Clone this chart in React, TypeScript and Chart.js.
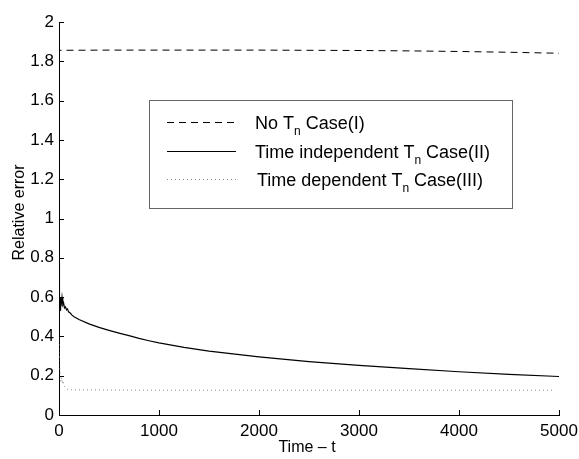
import React, { useEffect, useRef } from "react";
import { Chart, registerables } from "chart.js";

Chart.register(...registerables);

const FONT = "'Liberation Sans', Arial, Helvetica, sans-serif";

// Case (I): No T_n
const timeCase1 = [0, 2, 500, 1000, 2000, 3000, 3500, 4000, 4500, 5000];
const errCase1 = [0, 1.856, 1.857, 1.857, 1.857, 1.855, 1.853, 1.85, 1.846, 1.841];

// Case (II): Time independent T_n
const timeCase2 = [0, 3, 6, 10, 14, 18, 24, 30, 38, 46, 55, 65, 75, 85, 95, 110, 130, 150, 200, 300, 400, 500, 600, 700, 800, 900, 1000, 1250, 1500, 2000, 2500, 3000, 3500, 4000, 4500, 5000];
const errCase2 = [0.52, 0.78, 0.56, 0.6, 0.53, 0.59, 0.57, 0.6, 0.56, 0.57, 0.545, 0.55, 0.535, 0.54, 0.525, 0.52, 0.508, 0.5, 0.486, 0.464, 0.446, 0.431, 0.417, 0.404, 0.39, 0.378, 0.367, 0.344, 0.325, 0.296, 0.272, 0.253, 0.236, 0.22, 0.207, 0.196];

// Case (III): Time dependent T_n
const timeCase3 = [0, 4, 8, 12, 18, 25, 32, 40, 50, 65, 80, 100, 500, 1000, 2000, 3000, 4000, 4960];
const errCase3 = [0.4, 0.32, 0.24, 0.2, 0.17, 0.19, 0.16, 0.175, 0.15, 0.14, 0.132, 0.128, 0.127, 0.126, 0.126, 0.126, 0.126, 0.126];

const yTickLabels = ["0", "0.2", "0.4", "0.6", "0.8", "1", "1.2", "1.4", "1.6", "1.8", "2"];
const xTickLabels = ["0", "1000", "2000", "3000", "4000", "5000"];

const legendPrefix = ["No T", "Time independent T", "Time dependent T"];
const legendSub = ["n", "n", "n"];
const legendSuffix = [" Case(I)", " Case(II)", " Case(III)"];

const xTitle = "Time \u2013 t";
const yTitle = "Relative error";

const toPoints = (xs: number[], ys: number[]) => xs.map((x, i) => ({ x, y: ys[i] }));

const decorPlugin = {
  id: "decor",
  afterDraw(chart: any) {
    const ctx = chart.ctx as CanvasRenderingContext2D;
    const area = chart.chartArea;
    const xs = chart.scales.x;
    const ys = chart.scales.y;
    ctx.save();
    // inward tick marks
    ctx.strokeStyle = "#000";
    ctx.lineWidth = 1;
    ctx.beginPath();
    xs.ticks.forEach((t: any) => {
      const px = Math.round(xs.getPixelForValue(t.value)) + 0.5;
      ctx.moveTo(px, area.bottom);
      ctx.lineTo(px, area.bottom - 5);
    });
    ys.ticks.forEach((t: any) => {
      const py = Math.round(ys.getPixelForValue(t.value)) + 0.5;
      ctx.moveTo(area.left, py);
      ctx.lineTo(area.left + 5, py);
    });
    ctx.stroke();

    // axis titles
    ctx.fillStyle = "#000";
    ctx.font = `16px ${FONT}`;
    ctx.textAlign = "center";
    ctx.textBaseline = "middle";
    ctx.fillText(xTitle, (area.left + area.right) / 2 - 2, 448);
    ctx.save();
    ctx.translate(20, (area.top + area.bottom) / 2 - 6);
    ctx.rotate(-Math.PI / 2);
    ctx.fillText(yTitle, 0, 0);
    ctx.restore();

    // legend box
    const bx = 149.5, by = 100.5, bw = 363, bh = 108;
    ctx.fillStyle = "#fff";
    ctx.fillRect(bx, by, bw, bh);
    ctx.strokeStyle = "#666";
    ctx.lineWidth = 1;
    ctx.strokeRect(bx, by, bw, bh);

    const rowY = [122.5, 151.5, 179.5];
    const textX = [255, 255, 257];
    const datasets = chart.data.datasets;
    for (let i = 0; i < 3; i++) {
      const ds = datasets[i];
      ctx.save();
      ctx.strokeStyle = ds.borderColor;
      ctx.lineWidth = 1;
      ctx.setLineDash(ds.borderDash || []);
      ctx.beginPath();
      ctx.moveTo(167, rowY[i]);
      ctx.lineTo(236, rowY[i]);
      ctx.stroke();
      ctx.restore();

      ctx.fillStyle = "#000";
      ctx.textAlign = "left";
      ctx.textBaseline = "alphabetic";
      const base = rowY[i] + 6.5;
      ctx.font = `18px ${FONT}`;
      let x = textX[i];
      ctx.fillText(legendPrefix[i], x, base);
      x += ctx.measureText(legendPrefix[i]).width;
      ctx.font = `12px ${FONT}`;
      ctx.fillText(legendSub[i], x, base + 6);
      x += ctx.measureText(legendSub[i]).width;
      ctx.font = `18px ${FONT}`;
      ctx.fillText(legendSuffix[i], x, base);
    }
    ctx.restore();
  },
};

export default function App() {
  const ref = useRef<HTMLCanvasElement>(null);
  useEffect(() => {
    document.body.style.margin = "0";
    const chart = new Chart(ref.current as HTMLCanvasElement, {
      type: "line",
      data: {
        datasets: [
          {
            label: "No Tn Case(I)",
            data: toPoints(timeCase1, errCase1),
            borderColor: "#000",
            borderWidth: 1,
            borderDash: [7, 5],
            pointRadius: 0,
            fill: false,
            tension: 0,
          },
          {
            label: "Time independent Tn Case(II)",
            data: toPoints(timeCase2, errCase2),
            borderColor: "#000",
            borderWidth: 1.2,
            pointRadius: 0,
            fill: false,
            tension: 0,
          },
          {
            label: "Time dependent Tn Case(III)",
            data: toPoints(timeCase3, errCase3),
            borderColor: "#888",
            borderWidth: 1,
            borderDash: [1, 3],
            pointRadius: 0,
            fill: false,
            tension: 0,
          },
        ],
      },
      options: {
        responsive: false,
        animation: false,
        layout: { padding: { top: 22, right: 20, left: 0, bottom: 0 } },
        plugins: { legend: { display: false }, tooltip: { enabled: false } },
        scales: {
          x: {
            type: "linear",
            min: 0,
            max: 5000,
            afterFit: (s: any) => {
              s.height = 44;
              s.paddingLeft = 0;
              s.paddingRight = 0;
            },
            ticks: {
              stepSize: 1000,
              autoSkip: false,
              maxRotation: 0,
              padding: 6,
              color: "#000",
              font: { family: FONT, size: 17 },
              callback: (_v: any, i: number) => xTickLabels[i],
            },
            grid: { display: false, drawTicks: false },
            border: { display: true, color: "#000", width: 1 },
          },
          y: {
            type: "linear",
            min: 0,
            max: 2,
            afterFit: (s: any) => {
              s.width = 59;
              s.paddingTop = 0;
              s.paddingBottom = 0;
            },
            ticks: {
              stepSize: 0.2,
              autoSkip: false,
              padding: 5,
              color: "#000",
              font: { family: FONT, size: 17 },
              callback: (_v: any, i: number) => yTickLabels[i],
            },
            grid: { display: false, drawTicks: false },
            border: { display: true, color: "#000", width: 1 },
          },
        },
      },
      plugins: [decorPlugin],
    });
    return () => chart.destroy();
  }, []);
  return (
    <div style={{ position: "absolute", left: 0, top: 0, width: 579, height: 459, background: "#fff" }}>
      <canvas ref={ref} width={579} height={459} style={{ display: "block" }} />
    </div>
  );
}
